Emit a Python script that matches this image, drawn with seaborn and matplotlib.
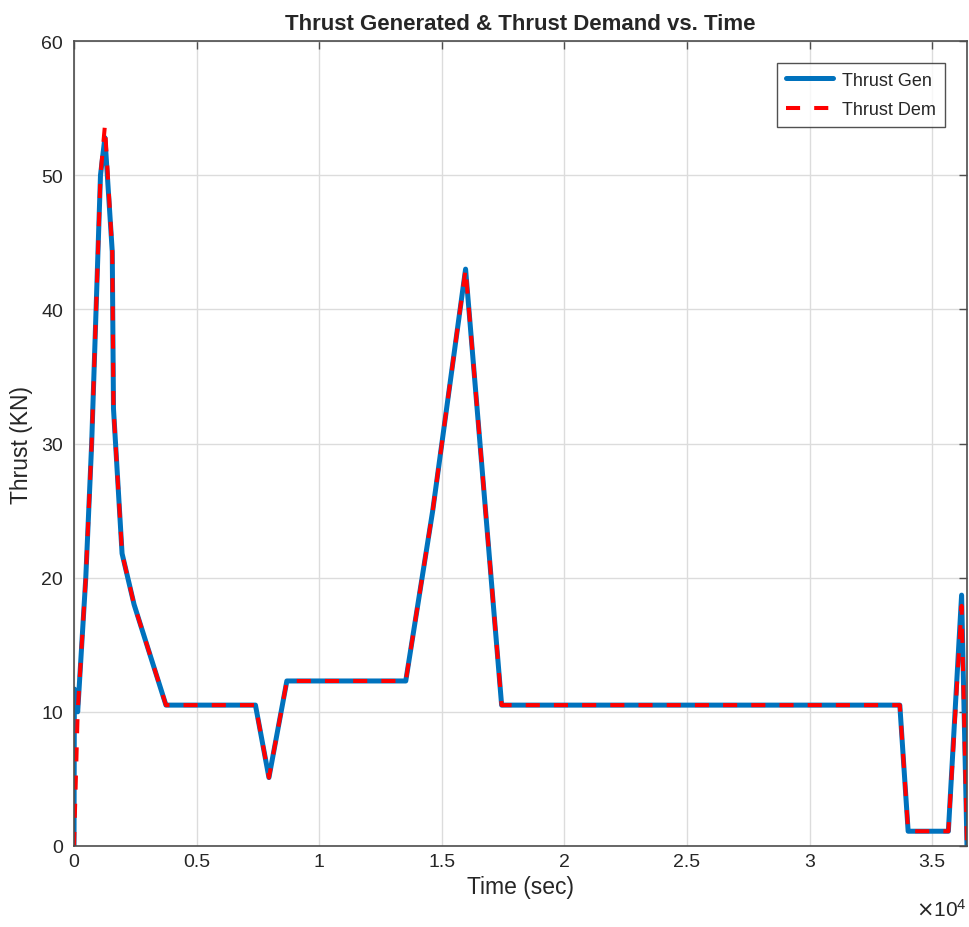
import matplotlib.pyplot as plt
import matplotlib.ticker as mticker
import seaborn as sns
import pandas as pd

# time in seconds
time_s = [0, 15, 150, 480, 720, 900, 1080, 1260, 1560, 1610, 1960, 2450, 3750,
          7400, 7950, 8680, 13530, 14630, 15970, 17440, 33680, 34020, 35660,
          36200, 36420]
thrust_gen = [0, 11.7, 10, 20, 30, 40, 50, 52.8, 44.3, 32.6, 21.8, 18.0, 10.5,
              10.5, 5.1, 12.3, 12.3, 25, 43, 10.5, 10.5, 1.1, 1.1, 18.7, 0]
thrust_dem = [0, 1.0, 10, 20, 30, 40, 50, 53.7, 44.3, 32.6, 21.8, 18.0, 10.5,
              10.5, 5.1, 12.3, 12.3, 25, 43, 10.5, 10.5, 1.1, 1.1, 17.9, 0]

df = pd.DataFrame({'time': time_s, 'gen': thrust_gen, 'dem': thrust_dem})

sns.set_style('white')
plt.rcParams['font.family'] = ['Liberation Sans', 'DejaVu Sans']

fig = plt.figure(figsize=(9.7, 9.28), dpi=100)
ax = fig.add_axes([0.0763, 0.0873, 0.9206, 0.8674])

axis_col = '#4d4d4d'
sns.lineplot(data=df, x='time', y='gen', sort=False, estimator=None, ax=ax,
             color='#0072BD', linewidth=3.6, label='Thrust Gen')
sns.lineplot(data=df, x='time', y='dem', sort=False, estimator=None, ax=ax,
             color='#FF0000', linewidth=2.9, linestyle=(0, (3.5, 3.5)), label='Thrust Dem')

ax.set_xlim(time_s[0], time_s[-1])
ax.set_ylim(0, 60)
ax.set_xticks([0, 5000, 10000, 15000, 20000, 25000, 30000, 35000])
ax.xaxis.set_major_formatter(mticker.FuncFormatter(lambda v, p: f'{v / 1e4:g}'))
ax.set_yticks(range(0, 61, 10))

ax.grid(True, color='#dcdcdc', linewidth=1)
ax.set_axisbelow(True)
for sp in ax.spines.values():
    sp.set_color(axis_col)
    sp.set_linewidth(1.2)
ax.tick_params(direction='in', length=6, width=1, colors=axis_col,
               labelcolor='#262626', labelsize=14, top=True, right=True, pad=8)
ax.tick_params(axis='x', pad=5)

ax.set_xlabel('Time (sec)', fontsize=16.5, color='#262626', labelpad=4)
ax.set_ylabel('Thrust (KN)', fontsize=16.5, color='#262626', labelpad=6)
ax.set_title('Thrust Generated & Thrust Demand vs. Time', fontsize=16,
             fontweight='bold', pad=9)
ax.text(1.0, -0.065, r'$\times\mathregular{10^4}$', transform=ax.transAxes,
        ha='right', va='top', fontsize=15, color='#262626')

leg = ax.legend(loc='upper right', fontsize=13, frameon=True, fancybox=False,
                handlelength=2.6, borderaxespad=1.2, borderpad=0.5,
                labelspacing=0.7, handletextpad=0.5)
leg.get_frame().set_edgecolor('#262626')
leg.get_frame().set_linewidth(1)

fig.savefig('out.png', dpi=100)
